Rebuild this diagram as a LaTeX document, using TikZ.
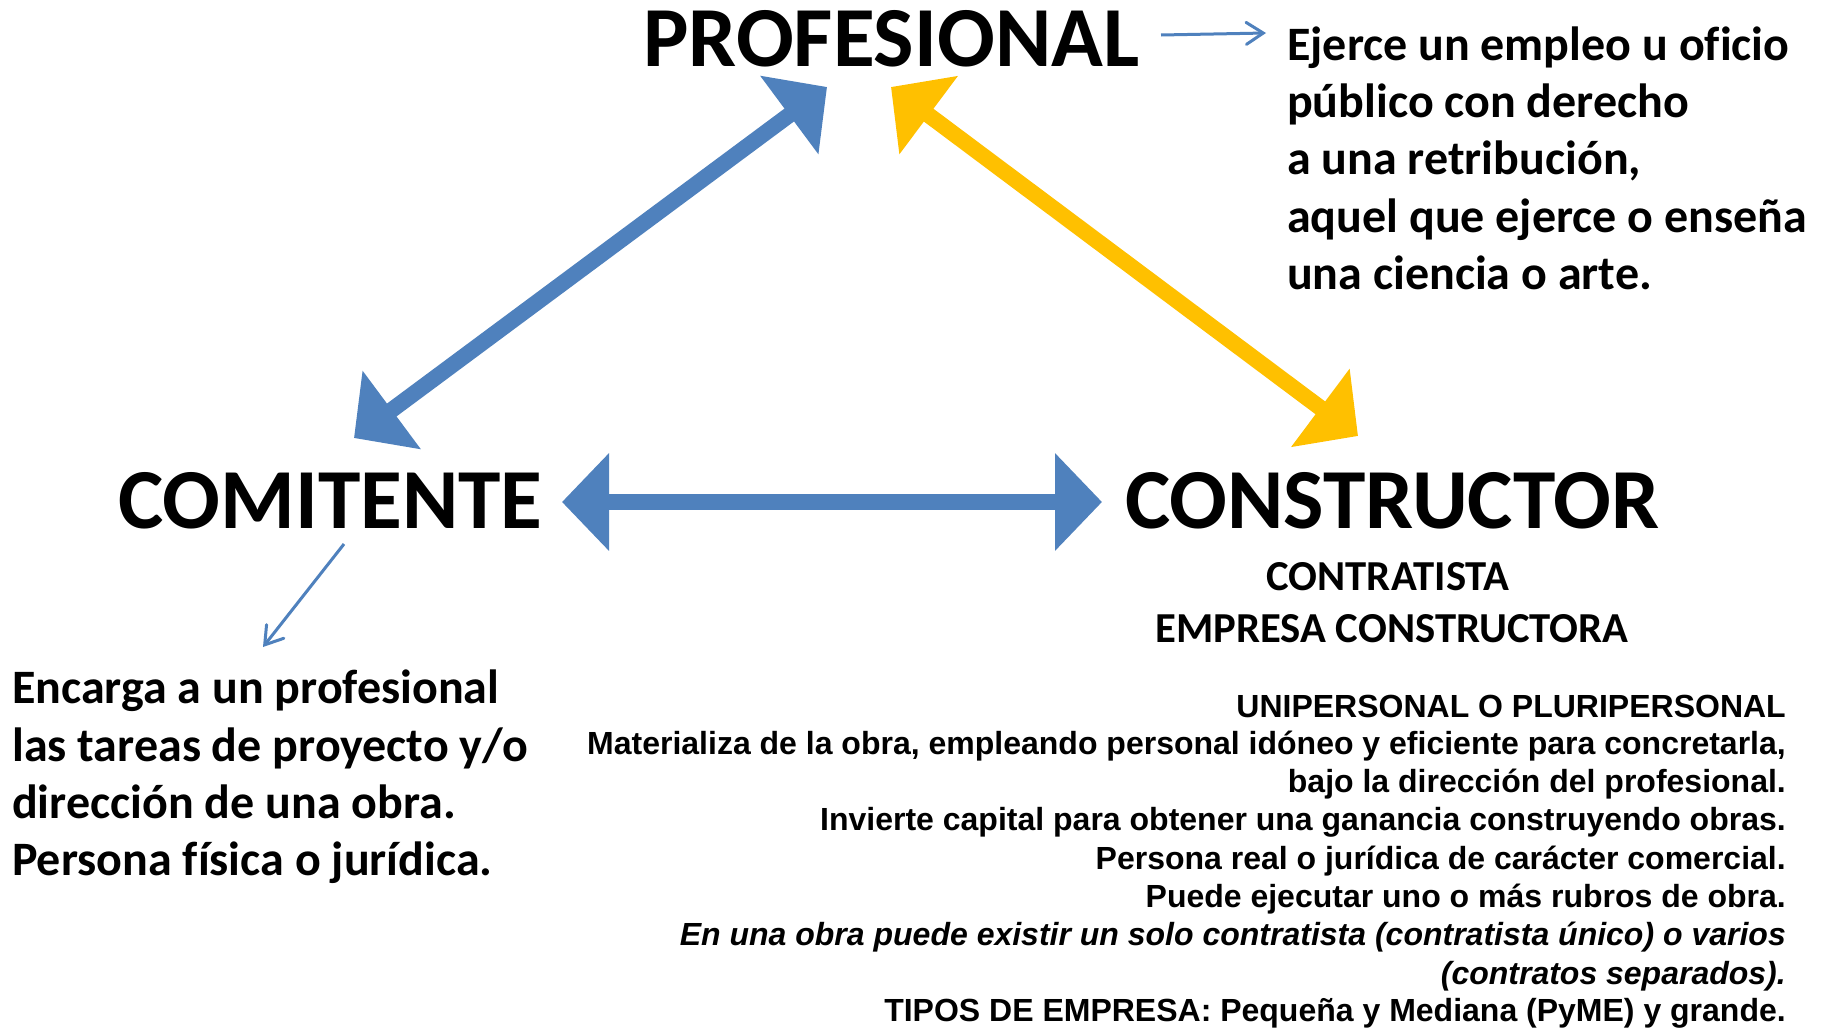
\documentclass[tikz,border=0pt]{standalone}
\usepackage{fontspec}
\setmainfont{Carlito}[Ligatures=NoCommon]
\newfontfamily\arialf{Liberation Sans}[Ligatures=NoCommon]
\usetikzlibrary{arrows.meta}
\definecolor{pblue}{HTML}{4F81BD}
\definecolor{pyellow}{HTML}{FFC000}
\tikzset{
  titlelbl/.style={font=\bfseries\fontsize{85.5}{100}\selectfont, inner sep=0pt, anchor=base west},
  desclbl/.style={font=\bfseries\fontsize{48}{57}\selectfont, inner sep=0pt, anchor=base west},
  sublbl/.style={font=\bfseries\fontsize{42.7}{48}\selectfont, inner sep=0pt, anchor=base},
  notelbl/.style={font=\arialf\bfseries\fontsize{32}{38}\selectfont, inner sep=0pt, anchor=base east},
  bigarrow/.style={line width=16pt, {Triangle[length=47pt,width=95pt]}-{Triangle[length=47pt,width=95pt]}},
  thinarrow/.style={draw=pblue, line width=3pt, -{Straight Barb[length=17pt,width=22pt,line cap=round]}}
}
\begin{document}
\begin{tikzpicture}[x=1pt,y=-1pt]
\useasboundingbox[fill=white] (0,0) rectangle (1821,1028);

% main labels
\node[titlelbl] (prof) at (643,66) {PROFESIONAL};
\node[titlelbl] (comi) at (118,528) {COMITENTE};
\node[titlelbl] (cons) at (1125,528) {CONSTRUCTOR};
\node[sublbl] (contr) at (1388,590) {CONTRATISTA};
\node[sublbl] (empr) at (1392,642) {EMPRESA CONSTRUCTORA};

% description of PROFESIONAL
\node[desclbl] (r1) at (1287,60) {Ejerce un empleo u oficio};
\node[desclbl] (r2) at (1287,117) {público con derecho};
\node[desclbl] (r3) at (1287,174) {a una retribución,};
\node[desclbl] (r4) at (1287,232) {aquel que ejerce o enseña};
\node[desclbl] (r5) at (1287,289) {una ciencia o arte.};

% description of COMITENTE
\node[desclbl] (l1) at (12,703) {Encarga a un profesional};
\node[desclbl] (l2) at (12,761) {las tareas de proyecto y/o};
\node[desclbl] (l3) at (12,818) {dirección de una obra.};
\node[desclbl] (l4) at (12,875) {Persona física o jurídica.};

% notes on CONSTRUCTOR
\node[notelbl] (n1) at (1786,717) {UNIPERSONAL O PLURIPERSONAL};
\node[notelbl] (n2) at (1786,754) {Materializa de la obra, empleando personal idóneo y eficiente para concretarla,};
\node[notelbl] (n3) at (1786,792) {bajo la dirección del profesional.};
\node[notelbl] (n4) at (1786,830) {Invierte capital para obtener una ganancia construyendo obras.};
\node[notelbl] (n5) at (1786,869) {Persona real o jurídica de carácter comercial.};
\node[notelbl] (n6) at (1786,907) {Puede ejecutar uno o más rubros de obra.};
\node[notelbl] (n7) at (1786,945) {\itshape En una obra puede existir un solo contratista (contratista único) o varios};
\node[notelbl] (n8) at (1786,984) {\itshape (contratos separados).};
\node[notelbl] (n9) at (1786,1021) {TIPOS DE EMPRESA: Pequeña y Mediana (PyME) y grande.};

% arrow end points
\coordinate (bA) at (354,438);
\coordinate (bB) at (827,87);
\coordinate (yA) at (891,87);
\coordinate (yB) at (1358,436);
\coordinate (hA) at (562,502);
\coordinate (hB) at (1102,502);
\coordinate (tA) at (1161,35);
\coordinate (tB) at (1266,33);
\coordinate (sA) at (344,544);
\coordinate (sB) at (263,647);

\draw[bigarrow, draw=pblue, fill=pblue] (bA) -- (bB);
\draw[bigarrow, draw=pyellow, fill=pyellow] (yA) -- (yB);
\draw[bigarrow, draw=pblue, fill=pblue] (hA) -- (hB);
\draw[thinarrow] (tA) -- (tB);
\draw[thinarrow] (sA) -- (sB);
\end{tikzpicture}
\end{document}
